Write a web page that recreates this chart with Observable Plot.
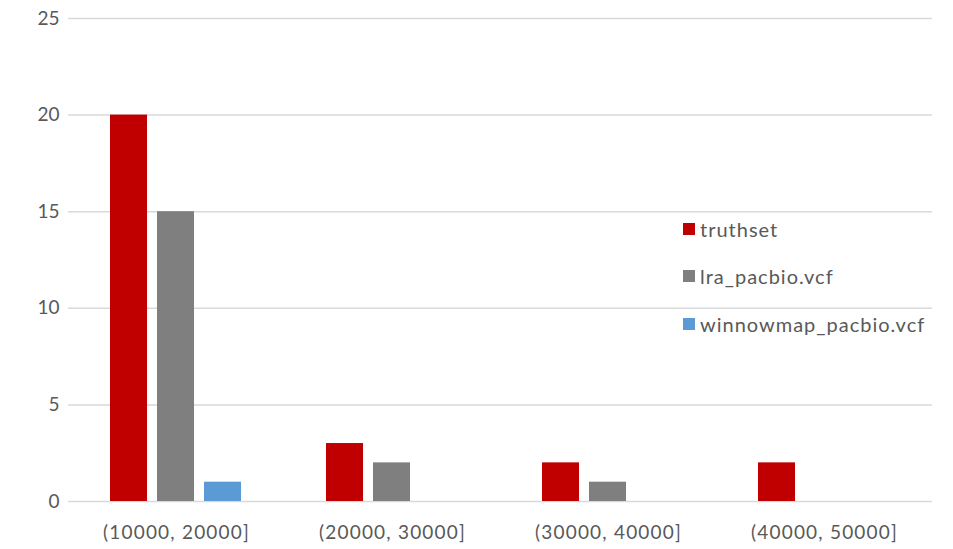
<!DOCTYPE html>
<html>
<head>
<meta charset="utf-8">
<script src="https://cdn.jsdelivr.net/npm/d3@7"></script>
<script src="https://cdn.jsdelivr.net/npm/@observablehq/plot@0.6"></script>
<style>
  html, body { margin: 0; padding: 0; background: #fff; }
  #wrap { position: relative; width: 953px; height: 549px; font-family: Lato, "Open Sans", sans-serif; }
  #legend { position: absolute; left: 683px; top: 0; color: #595959; font-size: 20px; letter-spacing: 1px; }
  .li { position: absolute; left: 0; white-space: nowrap; display: flex; align-items: center; }
  .sw { width: 12px; height: 12px; margin-right: 5px; display: inline-block; }
  svg g[aria-label="fx-axis tick label"] text { letter-spacing: 1.2px; }
</style>
</head>
<body>
<div id="wrap"><div id="legend"></div></div>
<script>
const categories = ["(10000, 20000]", "(20000, 30000]", "(30000, 40000]", "(40000, 50000]"];
const seriesNames = ["truthset", "lra_pacbio.vcf", "winnowmap_pacbio.vcf"];
const truthset = [20, 3, 2, 2];
const lra = [15, 2, 1, 0];
const winnowmap = [1, 0, 0, 0];
const colors = ["#C00000", "#7F7F7F", "#5B9BD5"];
const yTicks = [0, 5, 10, 15, 20, 25];

const seriesValues = [truthset, lra, winnowmap];
const data = [];
categories.forEach((c, i) => {
  seriesNames.forEach((s, j) => data.push({category: c, series: s, value: seriesValues[j][i]}));
});

const chart = Plot.plot({
  width: 953,
  height: 549,
  marginTop: 18,
  marginBottom: 48,
  marginLeft: 67,
  marginRight: 20,
  style: {fontFamily: "Lato, 'Open Sans', sans-serif", fontSize: "19px", color: "#595959", background: "#fff"},
  fx: {domain: categories, padding: 0, label: null, axis: null},
  x: {domain: seriesNames, axis: null, paddingInner: 0.208, paddingOuter: 0.86},
  y: {domain: [0, 25], ticks: yTicks, label: null, tickSize: 0, tickPadding: 9},
  color: {domain: seriesNames, range: colors},
  marks: [
    Plot.gridY(yTicks, {stroke: "#d9d9d9", strokeOpacity: 1, strokeWidth: 1.5}),
    Plot.barY(data, {fx: "category", x: "series", y: "value", fill: "series"}),
    Plot.axisFx({anchor: "bottom", tickSize: 0, tickPadding: 24, fontSize: 19, fill: "#595959", label: null}),
    Plot.axisY({ticks: yTicks, tickSize: 0, tickPadding: 9, fontSize: 19, fill: "#595959"})
  ]
});
document.getElementById("wrap").prepend(chart);

const legend = document.getElementById("legend");
const tops = [217, 264, 312];
seriesNames.forEach((s, j) => {
  const d = document.createElement("div");
  d.className = "li";
  d.style.top = tops[j] + "px";
  d.innerHTML = `<span class="sw" style="background:${colors[j]}"></span><span>${s}</span>`;
  legend.appendChild(d);
});
</script>
</body>
</html>
